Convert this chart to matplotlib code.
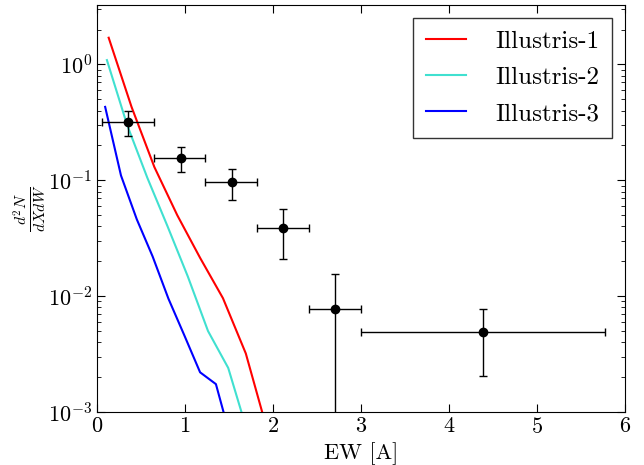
import matplotlib
matplotlib.use("Agg")
import matplotlib.pyplot as plt
import numpy as np

plt.rcParams["font.family"] = "serif"
plt.rcParams["font.serif"] = ["cmr10"]
plt.rcParams["mathtext.fontset"] = "cm"
plt.rcParams["axes.unicode_minus"] = False
plt.rcParams["axes.formatter.use_mathtext"] = True

# simulation curves
x_ill1 = [0.13, 0.39, 0.65, 0.91, 1.17, 1.43, 1.69, 1.95]
y_ill1 = [1.70, 0.43, 0.13, 0.050, 0.0214, 0.0096, 0.0032, 0.00063]
x_ill2 = [0.11, 0.34, 0.57, 0.80, 1.03, 1.26, 1.49, 1.72]
y_ill2 = [1.09, 0.30, 0.105, 0.040, 0.0148, 0.0050, 0.0024, 0.00063]
x_ill3 = [0.09, 0.27, 0.45, 0.63, 0.81, 0.99, 1.17, 1.35, 1.53]
y_ill3 = [0.43, 0.11, 0.046, 0.022, 0.0095, 0.0046, 0.0022, 0.00174, 0.00055]

# observations
obs_x = [0.35, 0.95, 1.53, 2.11, 2.70, 4.39]
obs_y = [0.316, 0.156, 0.096, 0.0385, 0.0078, 0.0049]
obs_xlo = [0.05, 0.65, 1.23, 1.82, 2.41, 3.00]
obs_xhi = [0.65, 1.23, 1.82, 2.41, 3.00, 5.78]
obs_ylo = [0.241, 0.118, 0.068, 0.0209, 0.0, 0.00206]
obs_yhi = [0.394, 0.192, 0.124, 0.0567, 0.0156, 0.00776]

fig = plt.figure(figsize=(6.44, 4.65), dpi=100)
ax = fig.add_axes([0.151, 0.114, 0.819, 0.875])

ax.plot(x_ill1, y_ill1, color="red", lw=1.5, label="Illustris-1")
ax.plot(x_ill2, y_ill2, color="turquoise", lw=1.5, label="Illustris-2")
ax.plot(x_ill3, y_ill3, color="blue", lw=1.5, label="Illustris-3")

ox = np.array(obs_x)
oy = np.array(obs_y)
xerr = [ox - np.array(obs_xlo), np.array(obs_xhi) - ox]
yerr = [oy - np.array(obs_ylo), np.array(obs_yhi) - oy]
ax.errorbar(ox, oy, xerr=xerr, yerr=yerr, fmt="o", color="black", ms=6,
            elinewidth=1.0, capsize=3, capthick=1.0)

ax.set_yscale("log")
ax.set_xlim(0, 6)
ax.set_ylim(1e-3, 3.25)
ax.set_xlabel("EW [A]", fontsize=16)
ax.set_ylabel(r"$\frac{d^2N}{dXdW}$", fontsize=16, labelpad=0)
ax.tick_params(which="both", direction="in", top=True, right=True, labelsize=16)
ax.tick_params(which="major", length=6)
ax.tick_params(which="minor", length=3)

leg = ax.legend(loc="upper right", fontsize=18, fancybox=False, handlelength=1.6,
                handletextpad=1.2, borderpad=0.5, labelspacing=0.55,
                borderaxespad=0.5)
leg.get_frame().set_edgecolor("black")

plt.savefig("out.png", dpi=100)
